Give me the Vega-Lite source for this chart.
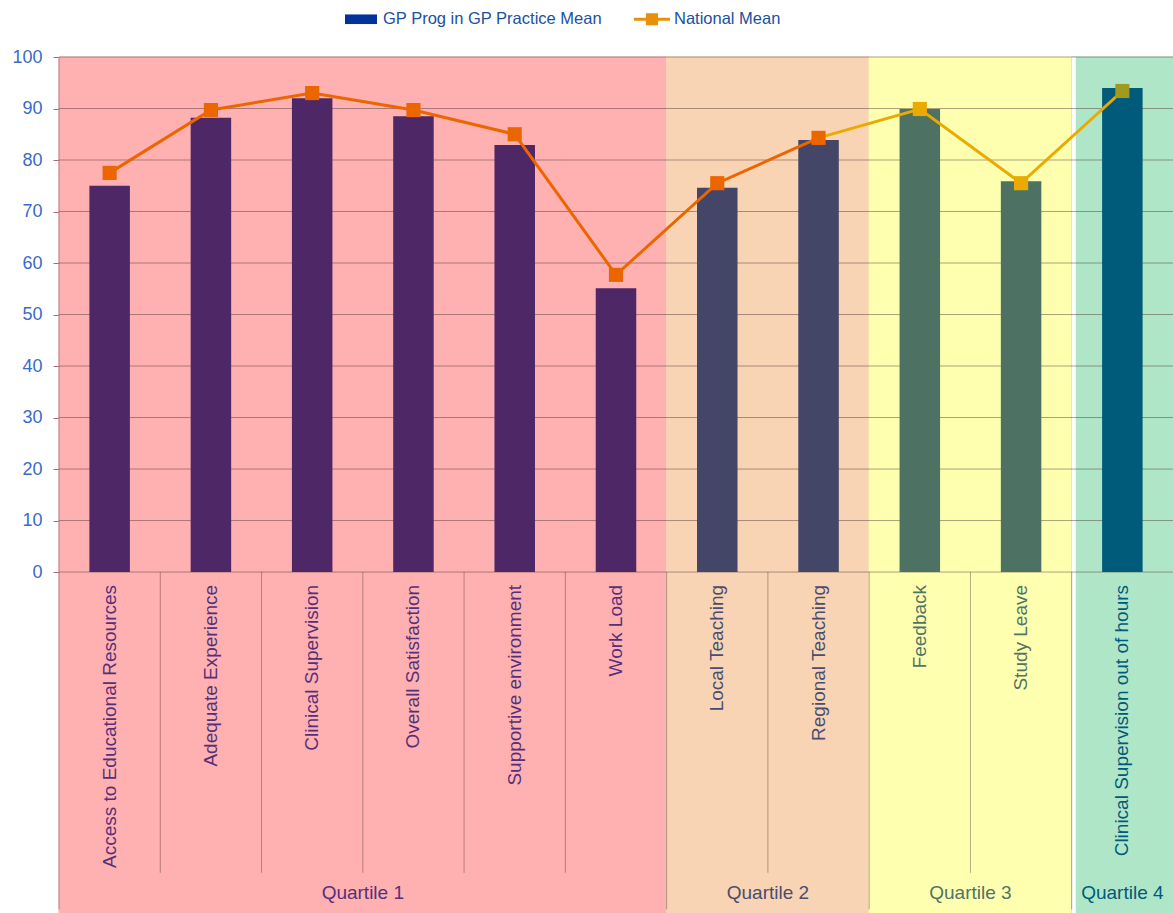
{
  "$schema": "https://vega.github.io/schema/vega-lite/v6.json",
  "width": 1114,
  "height": 856,
  "autosize": {"type": "none"},
  "padding": {"left": 59, "top": 57, "right": 0, "bottom": 0},
  "background": "white",
  "config": {"view": {"stroke": null}, "font": "Liberation Sans"},
  "datasets": {
    "main": [
      {"cat": "Access to Educational Resources", "quartile": "Quartile 1", "gp": 75.0, "national": 77.5},
      {"cat": "Adequate Experience", "quartile": "Quartile 1", "gp": 88.2, "national": 89.7},
      {"cat": "Clinical Supervision", "quartile": "Quartile 1", "gp": 92.0, "national": 93.0},
      {"cat": "Overall Satisfaction", "quartile": "Quartile 1", "gp": 88.5, "national": 89.7},
      {"cat": "Supportive environment", "quartile": "Quartile 1", "gp": 82.9, "national": 85.0},
      {"cat": "Work Load", "quartile": "Quartile 1", "gp": 55.1, "national": 57.7},
      {"cat": "Local Teaching", "quartile": "Quartile 2", "gp": 74.6, "national": 75.5},
      {"cat": "Regional Teaching", "quartile": "Quartile 2", "gp": 83.9, "national": 84.3},
      {"cat": "Feedback", "quartile": "Quartile 3", "gp": 89.9, "national": 89.9},
      {"cat": "Study Leave", "quartile": "Quartile 3", "gp": 75.9, "national": 75.5},
      {"cat": "Clinical Supervision out of hours", "quartile": "Quartile 4", "gp": 94.0, "national": 93.4}
    ],
    "grid": [{"v": 0}, {"v": 10}, {"v": 20}, {"v": 30}, {"v": 40}, {"v": 50}, {"v": 60}, {"v": 70}, {"v": 80}, {"v": 90}, {"v": 100}]
  },
  "data": {"name": "main"},
  "resolve": {"scale": {"color": "independent", "shape": "independent", "stroke": "independent"}},
  "encoding": {
    "x": {
      "field": "cat", "type": "nominal", "sort": null, "axis": null,
      "scale": {"paddingInner": 0, "paddingOuter": 0}
    }
  },
  "layer": [
    {
      "mark": {"type": "bar", "strokeWidth": 1},
      "encoding": {
        "y": {"datum": 100, "type": "quantitative", "scale": {"domain": [-66.2, 100], "nice": false, "zero": false},
          "axis": {"values": [0, 10, 20, 30, 40, 50, 60, 70, 80, 90, 100], "title": null, "grid": false, "domain": false,
            "labelColor": "#3A6BC6", "labelFontSize": 18, "labelFont": "Liberation Sans", "tickColor": "#A07070", "tickSize": 6, "labelPadding": 11}},
        "y2": {"datum": -66.2},
        "color": {"field": "quartile", "type": "nominal", "legend": null,
          "scale": {"domain": ["Quartile 1", "Quartile 2", "Quartile 3", "Quartile 4"], "range": ["#FFB0B0", "#F8D4B4", "#FFFFB0", "#B0E6C8"]}},
        "stroke": {"field": "quartile", "type": "nominal", "legend": null,
          "scale": {"domain": ["Quartile 1", "Quartile 2", "Quartile 3", "Quartile 4"], "range": ["#FFB0B0", "#F8D4B4", "#FFFFB0", "#B0E6C8"]}}
      }
    },
    {
      "transform": [{"filter": {"field": "cat", "equal": "Clinical Supervision out of hours"}}],
      "mark": {"type": "rule", "color": "white", "strokeWidth": 4, "xOffset": 2},
      "encoding": {
        "x": {"field": "cat", "type": "nominal", "sort": null, "bandPosition": 0},
        "y": {"datum": 100},
        "y2": {"datum": -66.2}
      }
    },
    {
      "data": {"name": "grid"},
      "mark": {"type": "rule", "color": "#4a3030", "opacity": 0.45, "strokeWidth": 1},
      "encoding": {
        "x": null,
        "y": {"field": "v", "type": "quantitative"}
      }
    },
    {
      "mark": {"type": "rule", "color": "#4a3030", "opacity": 0.4, "strokeWidth": 1},
      "encoding": {
        "x": {"field": "cat", "type": "nominal", "sort": null, "bandPosition": 0},
        "y": {"datum": 0},
        "y2": {"datum": -58.4}
      }
    },
    {
      "transform": [{"filter": {"field": "cat", "oneOf": ["Access to Educational Resources", "Local Teaching", "Feedback", "Clinical Supervision out of hours"]}}],
      "mark": {"type": "rule", "color": "#4a3030", "opacity": 0.4, "strokeWidth": 1},
      "encoding": {
        "x": {"field": "cat", "type": "nominal", "sort": null, "bandPosition": 0},
        "y": {"datum": -58.4},
        "y2": {"datum": -65.5}
      }
    },
    {
      "transform": [{"filter": {"field": "cat", "equal": "Access to Educational Resources"}}],
      "mark": {"type": "rule", "color": "#4a3030", "opacity": 0.4, "strokeWidth": 1},
      "encoding": {
        "x": {"field": "cat", "type": "nominal", "sort": null, "bandPosition": 0},
        "y": {"datum": 100},
        "y2": {"datum": 0}
      }
    },
    {
      "mark": {"type": "bar", "width": {"band": 0.4}},
      "encoding": {
        "y": {"field": "gp", "type": "quantitative"},
        "y2": {"datum": 0},
        "color": {"field": "quartile", "type": "nominal", "legend": null,
          "scale": {"domain": ["Quartile 1", "Quartile 2", "Quartile 3", "Quartile 4"], "range": ["#4E2766", "#434667", "#4D7264", "#005A7A"]}}
      }
    },
    {
      "transform": [{"filter": {"field": "quartile", "oneOf": ["Quartile 1", "Quartile 2"]}}],
      "mark": {"type": "line", "color": "#EC6600", "strokeWidth": 3},
      "encoding": {
        "y": {"field": "national", "type": "quantitative"}
      }
    },
    {
      "transform": [{"filter": {"field": "cat", "oneOf": ["Regional Teaching", "Feedback", "Study Leave", "Clinical Supervision out of hours"]}}],
      "mark": {"type": "line", "color": "#EAAA00", "strokeWidth": 3},
      "encoding": {
        "y": {"field": "national", "type": "quantitative"}
      }
    },
    {
      "mark": {"type": "point", "shape": "square", "filled": true, "size": 200, "opacity": 1},
      "encoding": {
        "y": {"field": "national", "type": "quantitative"},
        "color": {"field": "quartile", "type": "nominal", "legend": null,
          "scale": {"domain": ["Quartile 1", "Quartile 2", "Quartile 3", "Quartile 4"], "range": ["#EC6600", "#EC6600", "#EAAA00", "#A09A1E"]}}
      }
    },
    {
      "mark": {"type": "text", "angle": 270, "align": "right", "baseline": "middle", "fontSize": 19, "font": "Liberation Sans"},
      "encoding": {
        "y": {"datum": -2.5},
        "text": {"field": "cat"},
        "color": {"field": "quartile", "type": "nominal", "legend": null,
          "scale": {"domain": ["Quartile 1", "Quartile 2", "Quartile 3", "Quartile 4"], "range": ["#55307A", "#4A4C70", "#4F7566", "#005A7A"]}}
      }
    },
    {
      "transform": [{"filter": {"field": "cat", "oneOf": ["Overall Satisfaction", "Regional Teaching", "Study Leave"]}}],
      "mark": {"type": "text", "align": "center", "baseline": "middle", "fontSize": 19, "font": "Liberation Sans"},
      "encoding": {
        "x": {"field": "cat", "type": "nominal", "sort": null, "bandPosition": 0},
        "y": {"datum": -62.3},
        "text": {"field": "quartile"},
        "color": {"field": "quartile", "type": "nominal", "legend": null,
          "scale": {"domain": ["Quartile 1", "Quartile 2", "Quartile 3", "Quartile 4"], "range": ["#55307A", "#4A4C70", "#4F7566", "#005A7A"]}}
      }
    },
    {
      "transform": [{"filter": {"field": "cat", "equal": "Clinical Supervision out of hours"}}],
      "mark": {"type": "text", "align": "center", "baseline": "middle", "fontSize": 19, "font": "Liberation Sans", "color": "#005A7A"},
      "encoding": {
        "y": {"datum": -62.3},
        "text": {"field": "quartile"}
      }
    },
    {
      "transform": [{"fold": ["gp", "national"], "as": ["series", "value"]}],
      "mark": {"type": "point", "filled": true, "opacity": 0},
      "encoding": {
        "y": {"field": "value", "type": "quantitative"},
        "color": {"field": "series", "type": "nominal",
          "scale": {"domain": ["gp", "national"], "range": ["#003399", "#E8900A"]},
          "legend": {"orient": "none", "legendX": 286, "legendY": -54, "direction": "horizontal", "title": null,
            "labelExpr": "datum.label == 'gp' ? 'GP Prog in GP Practice Mean' : 'National Mean'",
            "labelFontSize": 16.5, "labelFont": "Liberation Sans", "labelColor": "#2050A0", "labelLimit": 0, "symbolOpacity": 1, "symbolSize": 1024,
            "symbolStrokeWidth": 0, "labelOffset": 6, "columnPadding": 31}},
        "shape": {"field": "series", "type": "nominal",
          "scale": {"domain": ["gp", "national"], "range": ["M-1,-0.3H1V0.3H-1Z", "M-1.125,-0.1H-0.38V-0.38H0.38V-0.1H1.125V0.1H0.38V0.38H-0.38V0.1H-1.125Z"]},
          "legend": null}
      }
    }
  ]
}
